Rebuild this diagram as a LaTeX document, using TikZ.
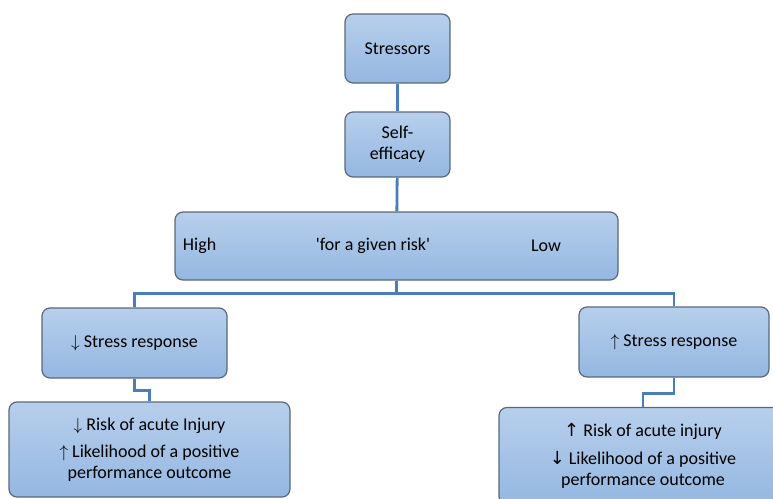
\documentclass[tikz,border=0pt]{standalone}
\usepackage{fontspec}
\setmainfont{Carlito}
\newfontfamily\arrowfont{DejaVu Sans}
\usetikzlibrary{positioning}
\definecolor{boxtop}{RGB}{183,207,236}
\definecolor{boxbot}{RGB}{148,183,225}
\definecolor{boxline}{RGB}{90,104,124}
\definecolor{linkblue}{RGB}{74,126,187}
\newcommand{\arrdown}{$\downarrow$}
\newcommand{\arrup}{$\uparrow$}
\tikzstyle{stage} = [rectangle, rounded corners=8pt, draw=boxline, line width=1.2pt, top color=boxtop, bottom color=boxbot, align=center, inner sep=2pt]
\tikzstyle{link} = [draw=linkblue, line width=2.8pt]

\begin{document}
\begin{tikzpicture}[x=1pt, y=-1pt, font=\fontsize{18}{21}\selectfont]
\useasboundingbox (0,0) rectangle (773,498);
\clip (0,0) rectangle (773,498);

 \node (stressors) [stage, minimum width=105pt, minimum height=69pt] at (397.5,48.5) {Stressors};
 \node (efficacy) [stage, minimum width=105pt, minimum height=65pt] at (397.5,144.5) {Self-\\efficacy};
 \node (risk) [stage, minimum width=443pt, minimum height=68pt] at (396.5,246) {};
 \node (high) [anchor=west] at ([xshift=5pt]risk.west) {High};
 \node (given) at (373,246) {\textquotesingle for a given risk\textquotesingle};
 \node (low) at (546,246) {Low};

 \node (lowresp) [stage, minimum width=185pt, minimum height=70pt] at (134.5,343) {\arrdown{} Stress response};
 \node (highresp) [stage, minimum width=190pt, minimum height=70pt] at (674,342) {\arrup{} Stress response};

 \node (lowout) [stage, minimum width=281pt, minimum height=95pt] at (149.5,449.5) {\arrdown{} Risk of acute Injury\\[6pt]\arrup{} Likelihood of a positive\\performance outcome};
 \node (highout) [stage, minimum width=288pt, minimum height=97pt] at (643,456) {{\arrowfont ↑} Risk of acute injury\\[7pt]{\arrowfont ↓} Likelihood of a positive\\performance outcome};

 % connectors
 \draw[link] (stressors) -- (efficacy);
 \draw[link] (efficacy) -- (risk);
 \draw[link] (risk.south) -- ++(0,13) -| (lowresp.north);
 \draw[link] (risk.south) -- ++(0,13) -| (highresp.north);
 \draw[link] (lowresp.south) -- ++(0,12) -| (lowout.north);
 \draw[link] (highresp.south) -- ++(0,16) -| (highout.north);

\end{tikzpicture}
\end{document}
